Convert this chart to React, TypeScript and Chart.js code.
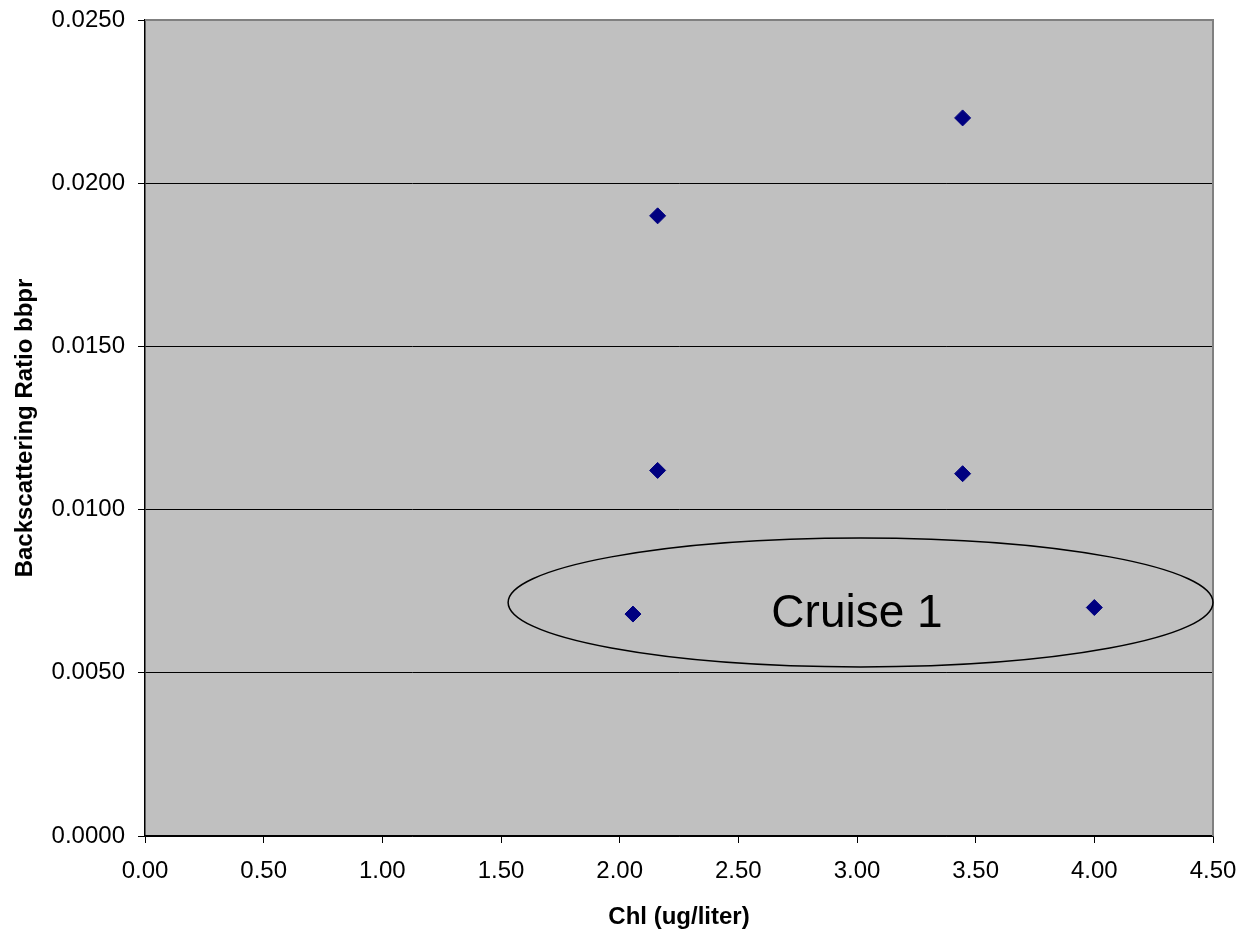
import React, { useEffect, useRef } from "react";
import { Chart, registerables } from "chart.js";

Chart.register(...registerables);

// Chlorophyll concentration (ug/liter) and backscattering ratio per sample
const chlValues = [2.16, 3.445, 2.16, 3.445, 2.056, 4.0];
const bbprValues = [0.019, 0.022, 0.0112, 0.0111, 0.0068, 0.007];

// Axis ranges and tick spacing
const xRange = [0, 4.5];
const xStep = 0.5;
const yRange = [0, 0.025];
const yStep = 0.005;

// Ellipse annotation grouping the first cruise samples (data units)
const cruiseLabel = "Cruise 1";
const cruiseBounds = { xMin: 1.53, xMax: 4.5, yMin: 0.00518, yMax: 0.00913 };
const cruiseLabelPos = { x: 3.0, y: 0.0068 };

const FONT = "Arial, 'Liberation Sans', Helvetica, sans-serif";

const plotAreaPlugin = {
  id: "plotArea",
  beforeDraw(chart: any) {
    const { ctx, chartArea: a } = chart;
    ctx.save();
    ctx.fillStyle = "#c0c0c0";
    ctx.fillRect(a.left, a.top, a.right - a.left, a.bottom - a.top);
    ctx.restore();
  },
  beforeDatasetsDraw(chart: any) {
    const { ctx, chartArea: a } = chart;
    ctx.save();
    ctx.strokeStyle = "#808080";
    ctx.lineWidth = 2;
    ctx.beginPath();
    ctx.moveTo(a.left, a.top);
    ctx.lineTo(a.right, a.top);
    ctx.lineTo(a.right, a.bottom);
    ctx.stroke();
    ctx.restore();
  },
};

const cruisePlugin = {
  id: "cruiseEllipse",
  afterDatasetsDraw(chart: any) {
    const { ctx } = chart;
    const xs = chart.scales.x;
    const ys = chart.scales.y;
    const l = xs.getPixelForValue(cruiseBounds.xMin);
    const r = xs.getPixelForValue(cruiseBounds.xMax);
    const t = ys.getPixelForValue(cruiseBounds.yMax);
    const b = ys.getPixelForValue(cruiseBounds.yMin);
    ctx.save();
    ctx.strokeStyle = "#000000";
    ctx.lineWidth = 1.5;
    ctx.beginPath();
    ctx.ellipse((l + r) / 2, (t + b) / 2, (r - l) / 2, (b - t) / 2, 0, 0, Math.PI * 2);
    ctx.stroke();
    ctx.fillStyle = "#000000";
    ctx.font = `46px ${FONT}`;
    ctx.textAlign = "center";
    ctx.textBaseline = "middle";
    ctx.fillText(
      cruiseLabel,
      xs.getPixelForValue(cruiseLabelPos.x),
      ys.getPixelForValue(cruiseLabelPos.y)
    );
    ctx.restore();
  },
};

export default function App() {
  const canvasRef = useRef<HTMLCanvasElement | null>(null);

  useEffect(() => {
    if (!canvasRef.current) return;
    const chart = new Chart(canvasRef.current, {
      type: "scatter",
      data: {
        datasets: [
          {
            label: "bbpr",
            data: chlValues.map((x, i) => ({ x, y: bbprValues[i] })),
            pointStyle: "rectRot",
            pointRadius: 8,
            pointHoverRadius: 8,
            backgroundColor: "#000080",
            borderColor: "#000080",
            borderWidth: 1,
          },
        ],
      },
      options: {
        animation: false,
        responsive: false,
        maintainAspectRatio: false,
        events: [],
        layout: { padding: { left: 0, top: 20, right: 30, bottom: 0 } },
        plugins: {
          legend: { display: false },
          tooltip: { enabled: false },
        },
        scales: {
          x: {
            type: "linear",
            min: xRange[0],
            max: xRange[1],
            afterFit: (s: any) => {
              s.height = 97;
              s.paddingLeft = 0;
              s.paddingRight = 0;
            },
            ticks: {
              stepSize: xStep,
              padding: 14,
              color: "#000000",
              font: { family: FONT, size: 24 },
              callback: (v: any) => Number(v).toFixed(2),
            },
            grid: {
              drawOnChartArea: false,
              drawTicks: true,
              tickLength: 7,
              tickColor: "#000000",
            },
            border: { color: "#000000", width: 1.5 },
            title: {
              display: true,
              text: "Chl (ug/liter)",
              color: "#000000",
              font: { family: FONT, size: 24, weight: "bold", lineHeight: 1 },
              padding: { top: 0, bottom: 4 },
            },
          },
          y: {
            type: "linear",
            min: yRange[0],
            max: yRange[1],
            afterFit: (s: any) => {
              s.width = 145;
              s.paddingTop = 0;
              s.paddingBottom = 0;
            },
            ticks: {
              stepSize: yStep,
              padding: 13,
              color: "#000000",
              font: { family: FONT, size: 24 },
              callback: (v: any) => Number(v).toFixed(4),
            },
            grid: {
              color: "#000000",
              lineWidth: 1,
              drawTicks: true,
              tickLength: 7,
              tickColor: "#000000",
            },
            border: { color: "#000000", width: 1.5 },
            title: {
              display: true,
              text: "Backscattering Ratio bbpr",
              color: "#000000",
              font: { family: FONT, size: 24, weight: "bold", lineHeight: 1 },
              padding: { top: 13, bottom: 0 },
            },
          },
        },
      },
      plugins: [plotAreaPlugin, cruisePlugin],
    });
    return () => chart.destroy();
  }, []);

  return (
    <div style={{ position: "fixed", left: 0, top: 0, width: 1243, height: 933, background: "#ffffff" }}>
      <canvas ref={canvasRef} width={1243} height={933} style={{ display: "block" }} />
    </div>
  );
}
